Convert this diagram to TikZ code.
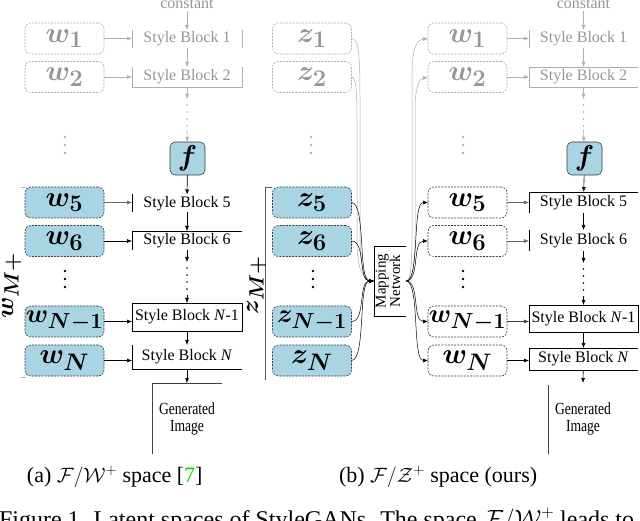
\documentclass[tikz,border=0pt]{standalone}
\usepackage{amsmath}
\usepackage{bm}
\usepackage{graphicx}
\usepackage{fontspec}
\setmainfont{Liberation Serif}
\usetikzlibrary{arrows.meta}
\definecolor{lblue}{RGB}{168,212,227}
\definecolor{ghost}{RGB}{175,175,175}
\definecolor{ghosttext}{RGB}{150,150,150}
\definecolor{edgec}{RGB}{60,60,60}
\definecolor{capgreen}{RGB}{0,220,0}
\newcommand{\vlab}[2][1.15]{\scalebox{#1}{$\boldsymbol{#2}$}}
\begin{document}
\begin{tikzpicture}[x=1pt,y=-1pt,
  >={Latex[length=5pt,width=4pt]},
  every node/.style={inner sep=0pt, outer sep=0pt},
  vec/.style={rectangle, rounded corners=6pt, minimum width=79pt, minimum height=31pt,
    dash pattern=on 2pt off 1.2pt, line width=0.6pt, font=\fontsize{24.88}{25}\selectfont},
  vecon/.style={vec, draw=edgec, fill=lblue},
  vecoff/.style={vec, draw=ghost, text=ghosttext},
  vecwhite/.style={vec, draw=edgec, fill=white},
  fbox/.style={rectangle, rounded corners=5pt, minimum width=35pt, minimum height=33pt,
    draw=edgec, fill=lblue, line width=0.6pt, font=\fontsize{24.88}{25}\selectfont},
  sblock/.style={minimum width=110pt, font=\fontsize{16}{18}\selectfont},
  sbon/.style={sblock},
  sboff/.style={sblock, text=ghosttext},
  sbline/.style={line width=0.6pt, draw=black},
  sbghost/.style={line width=0.6pt, draw=ghost},
  arr/.style={->, line width=0.6pt, draw=black},
  arrg/.style={->, line width=0.6pt, draw=ghost},
  dotline/.style={line width=1.8pt, line cap=round, dash pattern=on 0pt off 7pt},
  gentext/.style={minimum width=70pt, minimum height=71pt, align=center,
    font=\fontsize{17}{17}\selectfont},
  captext/.style={anchor=base west, font=\fontsize{22}{24}\selectfont},
  conn/.style={line width=0.5pt, draw=black},
  conng/.style={line width=0.5pt, draw=ghost}
]
\fill[white] (0,0) rectangle (640,521);
\useasboundingbox (0,0) rectangle (640,521);

% ================= LEFT PANEL =================
\node[sboff, anchor=base] (c1) at (187,9) {constant};
\node[vecoff] (w1) at (64.5,38.5) {\vlab{w_{1}}};
\node[vecoff] (w2) at (64.5,77) {\vlab{w_{2}}};
\node[vecon] (w5) at (64.5,202.5) {\vlab{w_{5}}};
\node[vecon] (w6) at (64.5,241) {\vlab{w_{6}}};
\node[vecon] (wN1) at (64.5,321.5) {\vlab[1.05]{w_{N-1}}};
\node[vecon] (wN) at (64.5,360.5) {\vlab{w_{N}}};

\node[sboff, minimum height=18pt] (sb1) at (187,39) {Style Block 1};
\node[sboff, minimum height=20pt] (sb2) at (187,77) {Style Block 2};
\node[fbox] (f1) at (187.5,158.5) {\vlab{f}};
\node[sbon, minimum height=18pt] (sb5) at (187,203.5) {Style Block 5};
\node[sbon, minimum height=19pt] (sb6) at (187,240.5) {Style Block 6};
\node[sbon, minimum height=28pt] (sbN1) at (187,317) {Style Block \textit{N}-1};
\node[sbon, minimum height=24pt] (sbN) at (187,357) {Style Block \textit{N}};
\node[gentext, anchor=north west] (g1) at (152,383)
  {\scalebox{0.8}[1]{Generated}\\\scalebox{0.8}[1]{Image}};

% partial block outlines
\draw[sbghost] (sb1.north west) -- (sb1.south west);
\draw[sbghost] (sb1.north east) -- (sb1.south east);
\draw[sbghost] (sb2.north west) -- (sb2.south west) -- (sb2.south east) -- (sb2.north east);
\draw[sbline] (sb5.north west) -- (sb5.south west);
\draw[sbline] (sb6.south west) -- (sb6.north west) -- (sb6.north east);
\draw[sbline] (sbN1.north west) rectangle (sbN1.south east);
\draw[sbline] (sbN.north west) -- (sbN.south west) -- (sbN.south east);
\draw[sbline, draw=black!75] (g1.north east) -- (g1.north west) -- (g1.south west);

% chain
\coordinate (l1a) at (187,99);
\coordinate (l1b) at (187,130);
\coordinate (l2a) at (187,262);
\coordinate (l2b) at (187,295);
\draw[arrg, shorten <=2pt] (c1) -- (sb1);
\draw[arrg] (sb1) -- (sb2);
\draw[arrg] (sb2) -- (l1a);
\draw[dotline, draw=ghost] (l1a) ++(0,6) -- (l1b);
\draw[arrg] (l1b) -- (f1);
\draw[arr] (f1) -- (sb5);
\draw[arr] (sb5) -- (sb6);
\draw[arr] (sb6) -- (l2a);
\draw[dotline] (l2a) ++(0,6) -- (l2b);
\draw[arr] (l2b) -- (sbN1);
\draw[arr] (sbN1) -- (sbN);
\draw[arr] (sbN) -- (g1.north);

% inputs
\draw[arrg] (w1.east) -- (w1.east -| sb1.west);
\draw[arrg] (w2.east) -- (w2.east -| sb2.west);
\draw[arr, draw=black!60] (w5.east) -- (w5.east -| sb5.west);
\draw[arr] (w6.east) -- (w6.east -| sb6.west);
\draw[arr] (wN1.east) -- (wN1.east -| sbN1.west);
\draw[arr] (wN.east) -- (wN.east -| sbN.west);

% vertical dots
\foreach \yy in {137,145,153} \fill[ghost] (65,\yy) circle (1.3);
\foreach \yy in {271,279,287} \fill[black] (65,\yy) circle (1.3);

% bracket + label
\draw[ghost, line width=0.6pt] (21,187) -- (26,187);
\draw[ghost, line width=0.6pt] (21,377) -- (26,377);
\node[rotate=90, anchor=base, font=\fontsize{24.88}{25}\selectfont] (wm) at (13,285.5)
  {$\boldsymbol{w_{M+}}$};

% ================= RIGHT PANEL =================
\node[sboff, anchor=base] (c2) at (583.5,9) {constant};
\node[vecoff] (z1) at (312,38.5) {\vlab{z_{1}}};
\node[vecoff] (z2) at (312,77) {\vlab{z_{2}}};
\node[vecon] (z5) at (312,202.5) {\vlab{z_{5}}};
\node[vecon] (z6) at (312,241) {\vlab{z_{6}}};
\node[vecon] (zN1) at (312,321.5) {\vlab[1.05]{z_{N-1}}};
\node[vecon] (zN) at (312,360.5) {\vlab{z_{N}}};

\node[vecoff] (v1) at (467.5,38.5) {\vlab{w_{1}}};
\node[vecoff] (v2) at (467.5,77) {\vlab{w_{2}}};
\node[vecwhite] (v5) at (467.5,202.5) {\vlab{w_{5}}};
\node[vecwhite] (v6) at (467.5,241) {\vlab{w_{6}}};
\node[vecwhite] (vN1) at (467.5,321.5) {\vlab[1.05]{w_{N-1}}};
\node[vecwhite] (vN) at (467.5,360.5) {\vlab{w_{N}}};

\node[minimum width=32pt, minimum height=70pt, font=\fontsize{15}{13.5}\selectfont] (mn) at (390,281)
  {\rotatebox{90}{\begin{tabular}{@{}c@{}}Mapping\\Network\end{tabular}}};
\draw[sbline] (mn.north east) -- (mn.north west) -- (mn.south west) -- (mn.south east);

\node[sboff, minimum width=109pt, minimum height=18pt] (rb1) at (583.5,39) {Style Block 1};
\node[sboff, minimum width=109pt, minimum height=20pt] (rb2) at (583.5,77) {Style Block 2};
\node[fbox] (f2) at (584.5,158.5) {\vlab{f}};
\node[sbon, minimum width=109pt, minimum height=21pt] (rb5) at (583.5,202.5) {Style Block 5};
\node[sbon, minimum width=109pt, minimum height=21pt] (rb6) at (583.5,240.5) {Style Block 6};
\node[sbon, minimum width=109pt, minimum height=27pt] (rbN1) at (583.5,318.5) {Style Block \textit{N}-1};
\node[sbon, minimum width=109pt, minimum height=22pt] (rbN) at (583.5,359) {Style Block \textit{N}};
\node[gentext, anchor=north west] (g2) at (548,383)
  {\scalebox{0.8}[1]{Generated}\\\scalebox{0.8}[1]{Image}};

\draw[sbghost] (rb1.north west) -- (rb1.south west);
\draw[sbghost] (rb2.north east) -- (rb2.north west) -- (rb2.south west) -- (rb2.south east);
\draw[sbline] (rb5.south west) -- (rb5.north west) -- (rb5.north east);
\draw[sbline] (rb6.north west) -- (rb6.south west);
\draw[sbline] (rbN1.north west) rectangle (rbN1.south east);
\draw[sbline] (rbN.north east) -- (rbN.north west) -- (rbN.south west) -- (rbN.south east);
\draw[sbline, draw=black!75] ([yshift=-2pt]g2.north west) -- (g2.south west);

\coordinate (r1a) at (583.5,99);
\coordinate (r1b) at (583.5,130);
\coordinate (r2a) at (583.5,263);
\coordinate (r2b) at (583.5,297);
\draw[arrg, shorten <=2pt] (c2) -- (rb1);
\draw[arrg] (rb1) -- (rb2);
\draw[arrg] (rb2) -- (r1a);
\draw[dotline, draw=ghost] (r1a) ++(0,6) -- (r1b);
\draw[arrg] (r1b) -- (f2);
\draw[arr] (f2) -- (rb5);
\draw[arr] (rb5) -- (rb6);
\draw[arr] (rb6) -- (r2a);
\draw[dotline] (r2a) ++(0,6) -- (r2b);
\draw[arr] (r2b) -- (rbN1);
\draw[arr] (rbN1) -- (rbN);
\draw[arr] (rbN) -- (g2.north);

\draw[arrg] (v1.east) -- (v1.east -| rb1.west);
\draw[arrg] (v2.east) -- (v2.east -| rb2.west);
\draw[arr, draw=black!60] (v5.east) -- (v5.east -| rb5.west);
\draw[arr, draw=black!60] (v6.east) -- (v6.east -| rb6.west);
\draw[arr, draw=black!75] (vN1.east) -- (vN1.east -| rbN1.west);
\draw[arr] (vN.east) -- (vN.east -| rbN.west);

% dots
\foreach \yy in {137,145,153} {\fill[ghost] (311,\yy) circle (1.3); \fill[ghost] (463,\yy) circle (1.3);}
\foreach \yy in {271,279,287} {\fill[black] (313,\yy) circle (1.3); \fill[black] (463,\yy) circle (1.3);}

% bracket + label
\draw[black!65, line width=0.6pt] (272,187) -- (265,187) -- (265,380);
\node[rotate=90, anchor=base, font=\fontsize{24.88}{25}\selectfont] (zm) at (258,285)
  {$\boldsymbol{z_{M+}}$};

% connectors into mapping network
\draw[conng] (z1.east) .. controls (359,38.5) and (360,55) .. (360,100) -- (360,235)
  .. controls (360,268) and (364,281) .. (mn.west);
\draw[conng] (z2.east) .. controls (356,77) and (357,92) .. (357,120) -- (357,240)
  .. controls (357,270) and (363,281) .. (mn.west);
\draw[conn, ->] (z5.east) .. controls (366,202.5) and (358,281) .. (mn.west);
\draw[conn, ->] (z6.east) .. controls (366,241) and (358,281) .. (mn.west);
\draw[conn, ->] (zN1.east) .. controls (366,321.5) and (358,281) .. (mn.west);
\draw[conn, ->] (zN.east) .. controls (366,360.5) and (358,281) .. (mn.west);

% connectors out of mapping network
\draw[conng, ->] (mn.east) .. controls (410,281) and (412,270) .. (412,235) -- (412,75)
  .. controls (412,50) and (416,40) .. (v1.west);
\draw[conng, ->] (mn.east) .. controls (412,281) and (415,268) .. (415,235) -- (415,110)
  .. controls (415,88) and (419,79) .. (v2.west);
\draw[conn, ->] (mn.east) .. controls (420,281) and (412,202.5) .. (v5.west);
\draw[conn, ->] (mn.east) .. controls (420,281) and (412,241) .. (v6.west);
\draw[conn, ->] (mn.east) .. controls (420,281) and (412,321.5) .. (vN1.west);
\draw[conn, ->] (mn.east) .. controls (420,281) and (412,360.5) .. (vN.west);

% ================= CAPTIONS =================
\node[captext] (capa) at (27,482) {(a) $\mathcal{F}/\mathcal{W}^{+}$ space [{\color{capgreen}7}]};
\node[captext] (capb) at (339,482) {(b) $\mathcal{F}/\mathcal{Z}^{+}$ space (ours)};
\node[captext, font=\fontsize{24}{26}\selectfont] (fig) at (-1,527) {Figure 1. Latent spaces of StyleGANs. The space $\mathcal{F}/\mathcal{W}^{+}$ leads to};
\end{tikzpicture}
\end{document}
